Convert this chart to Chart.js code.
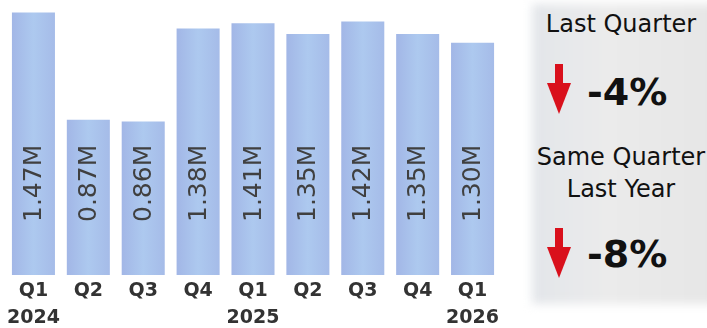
<!DOCTYPE html>
<html>
  <head>
    <meta charset="UTF-8">
    <style>
      body { margin: 0; width: 707px; height: 328px; overflow: hidden; background: #fff; font-family: "DejaVu Sans", sans-serif; }
      #wrap { position: absolute; left: 0; top: 0; width: 515px; height: 328px; }
      #panelBg { position: absolute; left: 532px; top: 4px; width: 185px; height: 300px; background: linear-gradient(90deg, #e3e6ea, #ebebeb 40%, #e6e6e6); filter: blur(5px); }
      .txt { position: absolute; left: 521px; width: 200px; text-align: center; color: #111; font-size: 24px; line-height: 24px; white-space: nowrap; }
      .big { position: absolute; left: 587px; font-size: 38px; line-height: 38px; font-weight: bold; color: #111; }
      svg { position: absolute; left: 0; top: 0; }
    </style>
  </head>
  <body>
    <div id="wrap"><canvas id="sales"></canvas></div>

    <div id="panelBg"></div>
    <div class="txt" style="top:12px">Last Quarter</div>
    <div class="big" style="top:73px">-4%</div>
    <div class="txt" style="top:145px">Same Quarter</div>
    <div class="txt" style="top:177px">Last Year</div>
    <div class="big" style="top:235px">-8%</div>
    <svg width="707" height="328">
      <g fill="#d9101c">
        <rect x="555" y="64" width="8" height="21"/>
        <polygon points="547,83 571,83 559,114"/>
        <rect x="555" y="228" width="8" height="21"/>
        <polygon points="547,247 571,247 559,278"/>
      </g>
    </svg>

    <script src="https://cdn.jsdelivr.net/npm/chart.js@4.4.0/dist/chart.umd.min.js"></script>
    <script type="text/javascript">

      const quarters = [['Q1', '2024'], 'Q2', 'Q3', 'Q4', ['Q1', '2025'], 'Q2', 'Q3', 'Q4', ['Q1', '2026']];
      const sales = [1.47, 0.87, 0.86, 1.38, 1.41, 1.35, 1.42, 1.35, 1.30]; // millions
      const salesLabels = ['1.47M', '0.87M', '0.86M', '1.38M', '1.41M', '1.35M', '1.42M', '1.35M', '1.30M'];

      // soft blue fill, a little darker at the bar edges
      function barFill(c) {
        const chart = c.chart;
        if (!chart.chartArea || !chart.scales.x) return '#a9c3ea';
        const x = chart.scales.x.getPixelForValue(c.dataIndex);
        const g = chart.ctx.createLinearGradient(x - 22, 0, x + 22, 0);
        g.addColorStop(0, '#a2b6e6');
        g.addColorStop(0.5, '#adc9ef');
        g.addColorStop(1, '#a5bbe8');
        return g;
      }

      // rotated value text, all sitting at the same height above the base
      const valueText = {
        id: 'valueText',
        afterDatasetsDraw(chart) {
          const ctx = chart.ctx;
          const base = chart.scales.y.getPixelForValue(0);
          chart.getDatasetMeta(0).data.forEach((bar, i) => {
            ctx.save();
            ctx.translate(bar.x, base - 53);
            ctx.rotate(-Math.PI / 2);
            ctx.font = '25px "DejaVu Sans"';
            ctx.fillStyle = '#404040';
            ctx.textAlign = 'left';
            ctx.textBaseline = 'middle';
            ctx.fillText(salesLabels[i], 0, 1);
            ctx.restore();
          });
        }
      };

      new Chart(document.getElementById('sales'), {
        type: 'bar',
        data: {
          labels: quarters,
          datasets: [{
            data: sales,
            backgroundColor: barFill,
            borderWidth: 0,
            barPercentage: 0.8,
            categoryPercentage: 0.98
          }]
        },
        options: {
          responsive: true,
          maintainAspectRatio: false,
          animation: false,
          layout: { padding: { left: 6, right: 15, top: 0, bottom: 2 } },
          plugins: { legend: { display: false }, tooltip: { enabled: false } },
          scales: {
            x: {
              grid: { display: false, drawTicks: false },
              border: { display: false },
              afterFit(scale) { scale.height = 51; },
              ticks: {
                color: '#333',
                padding: 3,
                maxRotation: 0,
                autoSkip: false,
                font: { family: 'DejaVu Sans', size: 19, weight: 'bold', lineHeight: 1.4 }
              }
            },
            y: {
              display: false,
              min: 0,
              max: 1.54
            }
          }
        },
        plugins: [valueText]
      });

    </script>
  </body>
</html>
